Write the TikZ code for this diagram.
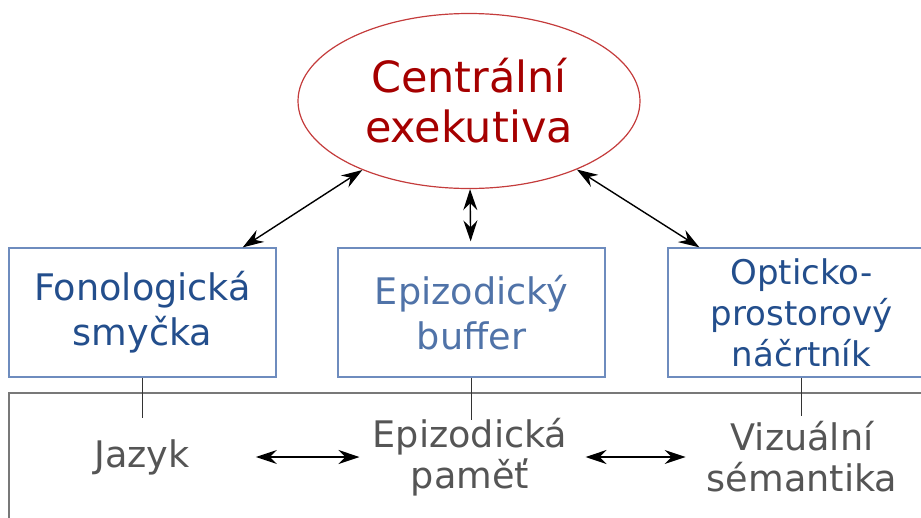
\documentclass[tikz,border=0pt]{standalone}
\usepackage{fontspec}
\setmainfont{DejaVu Sans}
\usepackage{tikz}
\usetikzlibrary{arrows.meta}
\usetikzlibrary{shapes}
\definecolor{ExecLine}{RGB}{196,60,60}
\definecolor{ExecText}{RGB}{165,0,0}
\definecolor{BoxLine}{RGB}{110,140,190}
\definecolor{BoxText}{RGB}{35,78,140}
\definecolor{BufText}{RGB}{80,115,168}
\definecolor{MemText}{RGB}{85,85,85}
\definecolor{MemLine}{RGB}{120,120,120}
\tikzstyle{ExecNode}=[ellipse, draw=ExecLine, line width=1.2pt, minimum width=342pt, minimum height=175pt, inner sep=0pt, text=ExecText, align=center, font=\fontsize{43}{50}\selectfont]
\tikzstyle{SlaveNode}=[rectangle, draw=BoxLine, line width=1.2pt, minimum width=267pt, minimum height=129pt, inner sep=0pt, text=BoxText, align=center, font=\fontsize{36.6}{45}\selectfont]
\tikzstyle{BufNode}=[SlaveNode, text=BufText]
\tikzstyle{MemNode}=[inner sep=0pt, text=MemText, align=center, font=\fontsize{36.6}{41}\selectfont]
\tikzstyle{LinkEdge}=[{Stealth[length=21pt,width=14pt,inset=7pt]}-{Stealth[length=21pt,width=14pt,inset=7pt]}, line width=1.4pt, black]
\tikzstyle{TieEdge}=[line width=1.4pt, black!80]

\begin{document}
\begin{tikzpicture}[x=1pt, y=-1pt]
\useasboundingbox (0,0) rectangle (921,517);
\clip (0,0) rectangle (921,517);

\draw[MemLine, line width=1.2pt] (9,560) -- (9,393) -- (940,393);

\node[ExecNode](CE) at (469,101) {Centrální\\exekutiva};
\node[SlaveNode](FONO) at (142.5,312.5) {Fonologická\\smyčka};
\node[BufNode](BUF) at (471.5,312.5) {Epizodický\\buffer};
\node[SlaveNode, font=\fontsize{34}{41}\selectfont](OPT) at (801.5,312.5) {Opticko-\\prostorový\\náčrtník};

\node[MemNode](JAZ) at (142,457) {Jazyk};
\node[MemNode](PAM) at (470,457) {Epizodická\\paměť};
\node[MemNode](VIZ) at (802,457) {Vizuální\\sémantika};

\draw[LinkEdge](CE) -- (FONO);
\draw[LinkEdge, shorten >=6pt](CE) -- (BUF);
\draw[LinkEdge](CE) -- (OPT);

\draw[TieEdge](FONO.south) -- ++(0,40);
\draw[TieEdge](BUF.south) -- ++(0,42);
\draw[TieEdge](OPT.south) -- ++(0,38);

\draw[LinkEdge, shorten <=66pt, shorten >=13pt](JAZ.east) -- (JAZ.east -| PAM.west);
\draw[LinkEdge, shorten <=18pt, shorten >=21pt](PAM.east |- JAZ.east) -- (JAZ.east -| VIZ.west);
\end{tikzpicture}
\end{document}
